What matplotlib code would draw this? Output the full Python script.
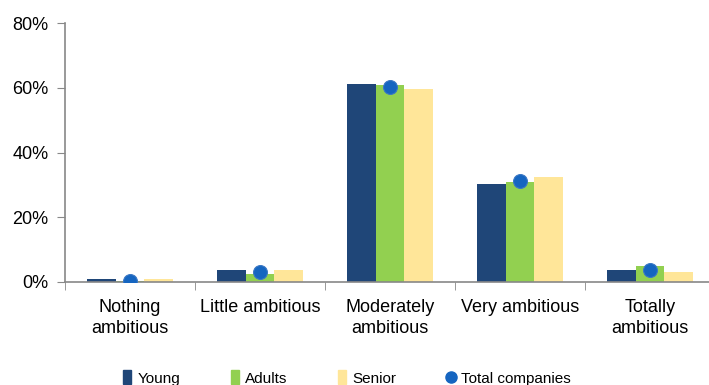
"""Ambition level of companies by age group, with the overall share as markers."""

import matplotlib

matplotlib.use("Agg")
import numpy as np
from matplotlib import pyplot as plt
from matplotlib.patches import Patch
from matplotlib.lines import Line2D
from matplotlib.ticker import PercentFormatter

plt.rcParams["font.family"] = ["Liberation Sans", "DejaVu Sans"]
plt.rcParams["font.size"] = 11

CATEGORIES = ["Nothing\nambitious", "Little ambitious", "Moderately\nambitious",
              "Very ambitious", "Totally\nambitious"]
YOUNG = [1.0, 3.7, 61.1, 30.3, 3.7]
ADULTS = [0.3, 2.6, 61.0, 30.9, 4.8]
SENIOR = [0.8, 3.7, 59.5, 32.5, 3.2]
TOTAL = [0.4, 3.0, 60.3, 31.2, 3.6]

C_YOUNG = "#1f4678"
C_ADULTS = "#92d050"
C_SENIOR = "#ffe699"
C_TOTAL = "#1565c0"

fig = plt.figure(figsize=(7.09, 3.85), dpi=100)
ax = fig.add_axes([65 / 709, 103 / 385, 650 / 709, 259 / 385])

x = np.arange(len(CATEGORIES))
w = 0.22
ax.bar(x - w, YOUNG, w, color=C_YOUNG, zorder=2)
ax.bar(x, ADULTS, w, color=C_ADULTS, zorder=2)
ax.bar(x + w, SENIOR, w, color=C_SENIOR, zorder=2)
ax.plot(x, TOTAL, "o", color=C_TOTAL, markersize=10, markeredgecolor="#3b78c4",
        markeredgewidth=0.8, zorder=3)

ax.set_xlim(-0.5, len(CATEGORIES) - 0.5)
ax.set_ylim(0, 80)
ax.set_yticks([0, 20, 40, 60, 80])
ax.yaxis.set_major_formatter(PercentFormatter(decimals=0))

ax.set_xticks(x)
ax.set_xticklabels(CATEGORIES, linespacing=1.3, fontsize=13)
ax.set_xticks(np.arange(len(CATEGORIES) + 1) - 0.5, minor=True)
ax.tick_params(axis="x", which="major", length=0, pad=12)
ax.tick_params(axis="x", which="minor", length=6, color="#888888")
ax.tick_params(axis="y", length=6, color="#888888", pad=6, labelsize=13)

for side in ("top", "right"):
    ax.spines[side].set_visible(False)
for side in ("left", "bottom"):
    ax.spines[side].set_color("#888888")
    ax.spines[side].set_linewidth(1.2)

handles = [
    Patch(color=C_YOUNG, label="Young"),
    Patch(color=C_ADULTS, label="Adults"),
    Patch(color=C_SENIOR, label="Senior"),
    Line2D([], [], marker="o", linestyle="none", color=C_TOTAL, markersize=8,
           label="Total companies"),
]
fig.legend(handles=handles, ncol=4, loc="center left", bbox_to_anchor=(123 / 709, 7 / 385),
           frameon=False, handlelength=0.55, handleheight=1.0, handletextpad=0.4,
           columnspacing=3.3, borderaxespad=0, borderpad=0)

fig.savefig("out.png", dpi=100)
